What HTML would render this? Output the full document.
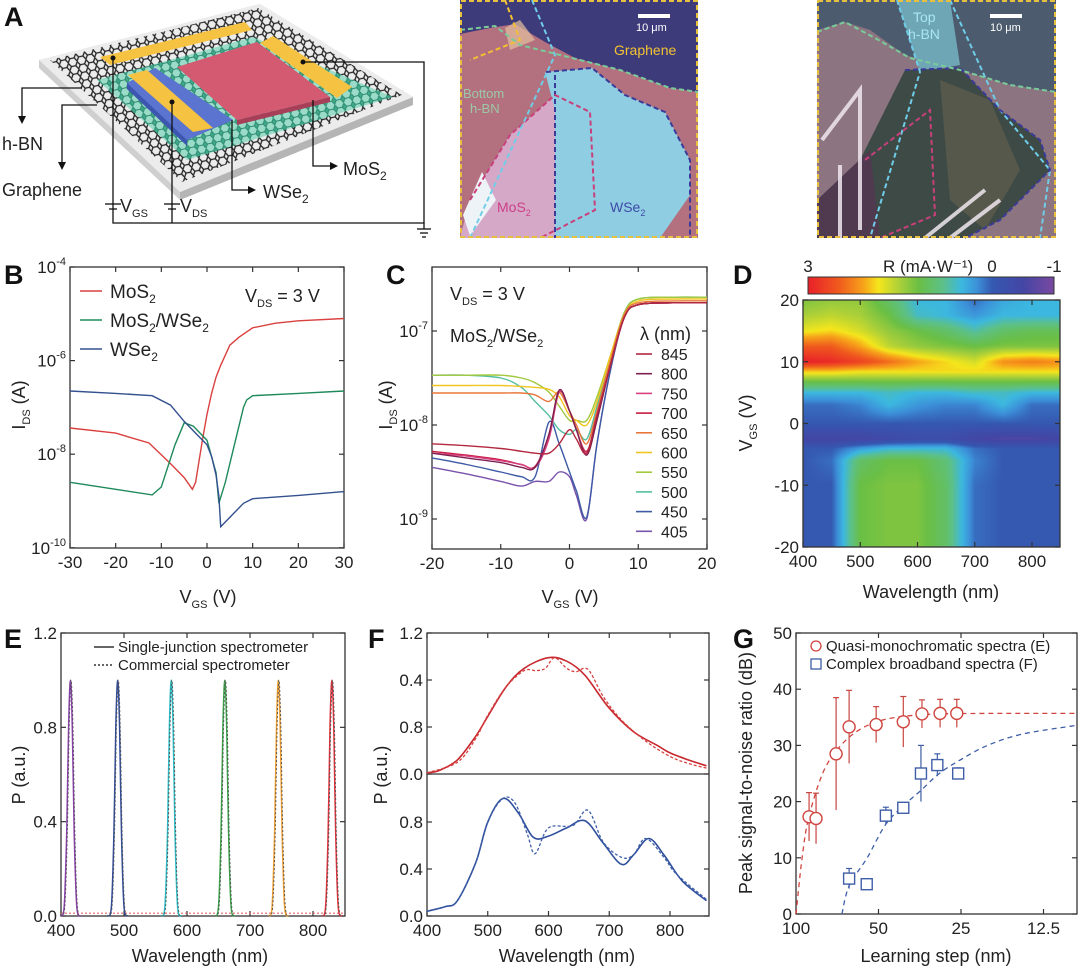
<!DOCTYPE html>
<html><head><meta charset="utf-8">
<style>
html,body{margin:0;padding:0;background:#fff;}
#wrap{position:relative;width:1080px;height:971px;overflow:hidden;font-family:"Liberation Sans",sans-serif;}
svg{position:absolute;left:0;top:0;}
text{font-family:"Liberation Sans",sans-serif;fill:#222;}
.tk{font-size:17px;}
.lb{font-size:18px;}
.pl{font-size:27px;font-weight:bold;fill:#111;}
#heat{position:absolute;left:803px;top:300px;}
</style></head>
<body>
<div id="wrap">
<canvas id="heat" width="257" height="247"></canvas>
<svg id="s" width="1080" height="971">
<defs>
<pattern id="hex" width="9" height="8" patternUnits="userSpaceOnUse" patternTransform="rotate(-12)">
<path d="M2,0 L6.5,0 L9,4 L6.5,8 L2,8 L-0.5,4 Z" fill="none" stroke="#222" stroke-width="1.3"/>
</pattern>
<pattern id="hexg" width="9" height="8" patternUnits="userSpaceOnUse" patternTransform="rotate(-12)">
<rect width="9" height="8" fill="#3fa98a"/>
<path d="M2,0 L6.5,0 L9,4 L6.5,8 L2,8 L-0.5,4 Z" fill="#9adcc8" stroke="#2d8a70" stroke-width="1"/>
</pattern>
</defs>
<!-- Panel letters -->
<text class="pl" x="4" y="26">A</text>
<text class="pl" x="4" y="284">B</text>
<text class="pl" x="386" y="284">C</text>
<text class="pl" x="733" y="284">D</text>
<text class="pl" x="4" y="648">E</text>
<text class="pl" x="368" y="648">F</text>
<text class="pl" x="733" y="648">G</text>

<!-- Panel A schematic -->
<g>
<polygon points="39,60 260,4 413,97 180,192 180,200 39,68" fill="#cfcfcf"/>
<polygon points="180,192 413,97 413,105 180,200" fill="#b5b5b5"/>
<polygon points="39,60 260,4 413,97 180,192" fill="#ececec"/>
<polygon points="50,60 258,8 402,95 182,182" fill="url(#hex)"/>
<polygon points="97,80 253,37 393,97 187,160" fill="url(#hexg)"/>
<polygon points="127,83 155,68 233,120 187,140 187,146 127,89" fill="#3d56b0"/>
<polygon points="127,83 155,68 233,120 187,140" fill="#5a74d0"/>
<polygon points="237,120 330,97 330,102 237,125" fill="#a83f58"/>
<polygon points="177,67 257,42 330,97 237,120" fill="#d45a72"/>
<polygon points="100,57 245,22 252,30 110,65" fill="#f5c242"/>
<polygon points="128,75 147,70 213,128 193,132" fill="#f5c242"/>
<polygon points="260,43 273,36 352,87 337,98" fill="#f5c242"/>
<g fill="none" stroke="#111" stroke-width="1.3">
<polyline points="113,58 113,223 424,223 424,62 303,62"/>
<polyline points="172,102 172,223"/>
<polyline points="82,88 22,88 22,116"/>
<polyline points="97,105 62,105 62,162"/>
<polyline points="232,120 232,190 248,190"/>
<polyline points="313,100 313,166 330,166"/>
<line x1="417" y1="229" x2="431" y2="229"/><line x1="420" y1="233" x2="428" y2="233"/><line x1="422" y1="237" x2="426" y2="237"/>
<line x1="424" y1="223" x2="424" y2="229"/>
<line x1="105" y1="204" x2="121" y2="204"/><line x1="109" y1="209" x2="117" y2="209"/>
<line x1="164" y1="204" x2="180" y2="204"/><line x1="168" y1="209" x2="176" y2="209"/>
</g>
<g fill="#111"><circle cx="113" cy="58" r="2.5"/><circle cx="172" cy="102" r="2.5"/><circle cx="303" cy="62" r="2.5"/>
<polygon points="18,116 26,116 22,124"/><polygon points="58,162 66,162 62,170"/><polygon points="248,186 248,194 256,190"/><polygon points="330,162 330,170 338,166"/></g>
<text class="lb" x="2" y="150">h-BN</text>
<text class="lb" x="2" y="196">Graphene</text>
<text class="lb" x="343" y="175">MoS<tspan font-size="12" dy="5">2</tspan></text>
<text class="lb" x="263" y="198">WSe<tspan font-size="12" dy="5">2</tspan></text>
<text class="lb" x="120" y="212">V<tspan font-size="11" dy="5">GS</tspan></text>
<text class="lb" x="180" y="212">V<tspan font-size="11" dy="5">DS</tspan></text>
</g>

<!-- Micrograph 1 -->
<g>
<rect x="460" y="0" width="238" height="238" fill="#b3717f"/>
<polygon points="460,0 698,0 698,92 670,88 620,70 575,58 545,42 515,24 490,28 460,34" fill="#3e3b7b"/>
<polygon points="505,28 520,20 535,40 510,50" fill="#e6c0a0" opacity="0.7"/>
<polygon points="470,200 510,135 555,95 590,112 595,210 570,238 460,238" fill="#d6a8c8"/>
<polygon points="545,72 592,68 625,95 665,112 690,160 690,195 660,238 555,238 555,110" fill="#8fcde2"/>
<polygon points="463,215 482,172 496,200 470,236" fill="#eef3f8"/>
<g fill="none" stroke-width="2" stroke-dasharray="5,3">
<polyline points="546,72 592,68 625,95 665,112 690,160 690,195 690,238" stroke="#3a3a9a"/>
<polyline points="555,75 555,238" stroke="#3a3a9a"/>
<polyline points="470,200 510,135 555,95 590,112 595,210 560,228 540,238" stroke="#c8407a"/>
<polyline points="505,0 520,40 470,60" stroke="#f2c030"/>
<polyline points="532,0 555,55 470,238" stroke="#70cde8"/>
<polyline points="460,30 495,26 520,45 560,55 620,70 670,88 698,92" stroke="#7acb9a"/>
<rect x="461" y="1" width="236" height="236" stroke="#e8c040"/>
</g>
<line x1="638" y1="16" x2="670" y2="16" stroke="#fff" stroke-width="4"/>
<text x="636" y="31" font-size="11" style="fill:#fff">10 μm</text>
<text x="614" y="55" font-size="14" style="fill:#f3c330">Graphene</text>
<text x="463" y="98" font-size="13" style="fill:#9cc8a8">Bottom</text>
<text x="470" y="113" font-size="13" style="fill:#9cc8a8">h-BN</text>
<text x="497" y="212" font-size="14" style="fill:#cc3f86">MoS<tspan font-size="9" dy="4">2</tspan></text>
<text x="610" y="212" font-size="14" style="fill:#3e4aa8">WSe<tspan font-size="9" dy="4">2</tspan></text>
</g>

<!-- Micrograph 2 -->
<g>
<rect x="817" y="0" width="239" height="238" fill="#8c7480"/>
<polygon points="817,0 1056,0 1056,92 1010,85 960,70 905,55 870,30 845,22 817,30" fill="#4c5b6e"/>
<polygon points="897,0 950,0 960,65 920,72" fill="#6ea6b6"/>
<polygon points="905,70 960,68 1000,110 1040,140 1050,170 1000,220 965,238 880,238 860,160" fill="#3e4a46"/>
<polygon points="940,80 990,100 1020,170 985,230 950,200" fill="#55584a"/>
<polygon points="817,200 870,150 880,238 817,238" fill="#503a50"/>
<g stroke="#f0e8f0" stroke-width="4" fill="none" opacity="0.85">
<polyline points="822,140 860,90 860,230"/><line x1="840" y1="165" x2="840" y2="238"/><line x1="925" y1="238" x2="985" y2="190"/><line x1="950" y1="238" x2="1000" y2="200"/>
</g>
<g fill="none" stroke-width="2" stroke-dasharray="5,3">
<polyline points="897,0 920,72 870,238" stroke="#70cde8"/>
<polyline points="950,0 1000,110 1050,170 1040,238" stroke="#70cde8"/>
<polyline points="905,70 960,68 1000,110 1040,140 1050,170 1000,220 965,238" stroke="#3a3a9a"/>
<polyline points="865,160 930,110 935,215 880,238" stroke="#c8407a"/>
<polyline points="817,32 845,22 875,38 910,58 960,70 1010,85 1056,92" stroke="#7acb9a"/>
<rect x="818" y="1" width="237" height="236" stroke="#e8c040"/>
</g>
<line x1="990" y1="16" x2="1022" y2="16" stroke="#fff" stroke-width="4"/>
<text x="990" y="31" font-size="11" style="fill:#fff">10 μm</text>
<text x="913" y="22" font-size="14" style="fill:#a8e6f4">Top</text>
<text x="908" y="39" font-size="14" style="fill:#a8e6f4">h-BN</text>
</g>

<!-- static labels for B -->
<text class="lb" x="245" y="302" font-size="19">V<tspan font-size="11" dy="5">DS</tspan><tspan dy="-5"> = 3 V</tspan></text>
<text class="lb" transform="translate(25,405) rotate(-90)" text-anchor="middle">I<tspan font-size="11" dy="5">DS</tspan><tspan dy="-5"> (A)</tspan></text>
<text class="lb" x="208" y="603" text-anchor="middle">V<tspan font-size="11" dy="5">GS</tspan><tspan dy="-5"> (V)</tspan></text>
<!-- C -->
<text class="lb" x="450" y="300">V<tspan font-size="11" dy="5">DS</tspan><tspan dy="-5"> = 3 V</tspan></text>
<text class="lb" x="450" y="342">MoS<tspan font-size="11" dy="5">2</tspan><tspan dy="-5">/WSe</tspan><tspan font-size="11" dy="5">2</tspan></text>
<text class="lb" x="640" y="340" font-size="16">λ (nm)</text>
<text class="lb" transform="translate(392,405) rotate(-90)" text-anchor="middle">I<tspan font-size="11" dy="5">DS</tspan><tspan dy="-5"> (A)</tspan></text>
<text class="lb" x="570" y="603" text-anchor="middle">V<tspan font-size="11" dy="5">GS</tspan><tspan dy="-5"> (V)</tspan></text>
<!-- D -->
<text class="tk" x="808" y="272" text-anchor="middle" font-size="16">3</text>
<text class="tk" x="883" y="272" font-size="15">R (mA·W⁻¹)</text>
<text class="tk" x="992" y="272" text-anchor="middle" font-size="16">0</text>
<text class="tk" x="1054" y="272" text-anchor="middle" font-size="16">-1</text>
<text class="lb" transform="translate(752,423) rotate(-90)" text-anchor="middle">V<tspan font-size="11" dy="5">GS</tspan><tspan dy="-5"> (V)</tspan></text>
<text class="lb" x="931" y="598" text-anchor="middle">Wavelength (nm)</text>
<!-- E -->
<text class="lb" transform="translate(25,775) rotate(-90)" text-anchor="middle">P (a.u.)</text>
<text class="lb" x="200" y="962" text-anchor="middle">Wavelength (nm)</text>
<line x1="94" y1="647" x2="114" y2="647" stroke="#333" stroke-width="1.5"/>
<text x="118" y="652" font-size="15">Single-junction spectrometer</text>
<line x1="94" y1="665" x2="114" y2="665" stroke="#333" stroke-width="1.5" stroke-dasharray="2,2"/>
<text x="118" y="670" font-size="15">Commercial spectrometer</text>
<!-- F -->
<text class="lb" transform="translate(387,775) rotate(-90)" text-anchor="middle">P (a.u.)</text>
<text class="lb" x="567" y="962" text-anchor="middle">Wavelength (nm)</text>
<!-- G -->
<text class="lb" transform="translate(752,773) rotate(-90)" text-anchor="middle">Peak signal-to-noise ratio (dB)</text>
<text class="lb" x="936" y="962" text-anchor="middle">Learning step (nm)</text>
<circle cx="816" cy="646" r="5" fill="none" stroke="#d0453f" stroke-width="1.3"/>
<text x="826" y="651" font-size="15">Quasi-monochromatic spectra (E)</text>
<rect x="811" y="659" width="10" height="10" fill="none" stroke="#3f5ea8" stroke-width="1.3"/>
<text x="826" y="669" font-size="15">Complex broadband spectra (F)</text>
</svg>
</div>
<script>
// ---------------- DATA ----------------
// Panel B (log10 IDS)
const bMosX = [-30,-20,-12.7,-8,-5,-3.2,-2.5,-1,0,1,2,3,5,7,10,15,20,30];
const bMosY = [-7.44,-7.55,-7.76,-8.2,-8.5,-8.75,-8.6,-7.7,-7.15,-6.7,-6.35,-6.1,-5.67,-5.5,-5.3,-5.2,-5.15,-5.1];
const bHetX = [-30,-20,-12,-10,-7,-5,-3,0,2,2.6,4,6,8,8.7,10,20,30];
const bHetY = [-8.6,-8.75,-8.87,-8.7,-7.8,-7.33,-7.4,-7.7,-8.4,-9.05,-8.6,-7.8,-7.0,-6.84,-6.75,-6.7,-6.65];
const bWseX = [-30,-20,-12,-8,-5,-2,0,1,2,2.6,3,5,8,10,20,30];
const bWseY = [-6.65,-6.7,-6.75,-6.95,-7.3,-7.6,-7.8,-8.05,-8.45,-8.9,-9.55,-9.35,-9.05,-8.95,-8.88,-8.8];
const bXTicks = [-30,-20,-10,0,10,20,30];
const bYTicks = [-4,-6,-8,-10];
// Panel C
const cVgs = [-20,-15,-10,-7,-5,-3,-1.5,0,1,2.5,4,6,8,10,15,20];
const cWavelengths = [845,800,750,700,650,600,550,500,450,405];
const c845 = [-8.2,-8.22,-8.25,-8.28,-8.3,-8.3,-8.2,-8.05,-8.15,-8.3,-7.9,-7.35,-6.85,-6.72,-6.7,-6.7];
const c800 = [-8.3,-8.35,-8.4,-8.45,-8.45,-8.1,-7.63,-7.85,-8.05,-8.32,-7.95,-7.35,-6.85,-6.72,-6.7,-6.7];
const c750 = [-8.3,-8.33,-8.38,-8.42,-8.45,-8.15,-7.65,-7.85,-8.05,-8.3,-7.9,-7.35,-6.85,-6.72,-6.7,-6.7];
const c700 = [-8.28,-8.32,-8.37,-8.42,-8.44,-8.1,-7.63,-7.85,-8.05,-8.28,-7.9,-7.35,-6.85,-6.72,-6.7,-6.7];
const c650 = [-7.66,-7.66,-7.66,-7.66,-7.68,-7.75,-7.65,-7.85,-8.0,-8.2,-7.85,-7.3,-6.82,-6.7,-6.68,-6.68];
const c600 = [-7.58,-7.58,-7.58,-7.59,-7.6,-7.62,-7.7,-7.9,-7.95,-8.0,-7.75,-7.25,-6.82,-6.68,-6.66,-6.66];
const c550 = [-7.47,-7.47,-7.47,-7.5,-7.55,-7.65,-7.8,-7.95,-7.95,-7.95,-7.7,-7.25,-6.8,-6.66,-6.64,-6.64];
const c500 = [-7.47,-7.47,-7.5,-7.6,-7.75,-7.9,-8.05,-8.1,-8.05,-8.15,-7.8,-7.3,-6.8,-6.66,-6.64,-6.64];
const c450 = [-8.35,-8.42,-8.5,-8.55,-8.55,-7.97,-8.2,-8.5,-8.7,-8.98,-8.2,-7.4,-6.85,-6.72,-6.7,-6.7];
const c405 = [-8.45,-8.52,-8.6,-8.65,-8.6,-8.6,-8.5,-8.55,-8.75,-9.0,-8.2,-7.4,-6.85,-6.72,-6.7,-6.7];
const cXTicks = [-20,-10,0,10,20];
const cYTicks = [-7,-8,-9];
// Panel D heatmap
const dWl = [400,450,500,550,600,650,700,750,800,850];
const dVgs = [20,17.5,15,12.5,10,8.5,7,5,3,0,-2.5,-4,-6,-10,-20];
const dR20 = [1.3,1.4,1.4,1.0,0.5,0.5,0.1,0.4,0.5,0.5];
const dR17 = [1.5,1.6,1.5,1.2,0.6,0.5,0.3,0.5,0.5,0.5];
const dR15 = [1.8,1.9,1.7,1.4,1.2,1.0,0.7,1.0,1.1,1.1];
const dR12 = [2.5,2.5,2.1,1.6,1.4,1.3,1.2,1.3,1.3,1.3];
const dR10 = [3.0,2.9,2.7,2.4,2.1,1.9,1.7,2.2,2.3,2.2];
const dR8 = [2.0,2.0,1.9,1.9,1.9,1.9,1.9,1.9,1.9,1.9];
const dR7 = [1.3,1.3,1.3,1.3,1.3,1.3,1.3,1.3,1.3,1.3];
const dR5 = [0.5,0.5,0.5,0.6,0.5,0.5,0.6,0.6,0.5,0.5];
const dR3 = [0.1,0.1,0.2,0.5,0.3,0.2,0.2,0.5,0.1,0.1];
const dR0 = [0,0,0,0,0,0,0,0,0,0];
const dRm2 = [-0.5,-0.5,-0.5,-0.4,-0.3,-0.3,-0.5,-0.6,-0.6,-0.5];
const dRm4 = [0,0,0.3,0.5,0.5,0.5,0.1,0,0,0];
const dRm6 = [0,0.1,1.0,1.2,1.2,0.9,0.2,0,0,0];
const dRm10 = [0,0,1.2,1.3,1.3,1.0,0.1,0,0,0];
const dRm20 = [0,0,1.2,1.3,1.3,1.0,0.1,0,0,0];
const dXTicks = [400,500,600,700,800];
const dYTicks = [20,10,0,-10,-20];
// Panel E
const eCenters = [415,490,575,660,745,830];
const eHeights = [1.0,1.0,1.0,1.0,1.0,1.0];
const eShapeOff = [-16,-10,-6,-3,0,3,6,10,16];
const eShapeVal = [0,0.04,0.35,0.8,1,0.8,0.35,0.04,0];
const eXTicks = [400,500,600,700,800];
const eYTicks = [0,0.4,0.8,1.2];
// Panel F
const fTopWl = [400,420,450,480,500,530,560,600,630,660,700,740,780,800,830,860];
const fTopSolid = [0.01,0.03,0.12,0.32,0.49,0.74,0.9,0.99,0.96,0.84,0.56,0.36,0.24,0.18,0.12,0.07];
const fTopDashWl = [400,450,480,500,530,560,580,595,610,630,645,665,690,720,760,800,830,860];
const fTopDash = [0.01,0.1,0.3,0.5,0.74,0.88,0.88,0.9,0.99,0.9,0.87,0.89,0.66,0.46,0.28,0.15,0.09,0.05];
const fBotWl = [400,430,450,480,500,525,550,575,600,630,660,690,720,740,765,790,820,860];
const fBotSolid = [0.04,0.08,0.13,0.45,0.8,1.0,0.88,0.67,0.68,0.75,0.81,0.62,0.44,0.52,0.66,0.52,0.3,0.13];
const fBotDashWl = [400,430,450,480,500,525,545,565,578,600,640,665,690,720,740,760,790,810,860];
const fBotDash = [0.04,0.08,0.13,0.45,0.8,1.0,0.96,0.7,0.53,0.75,0.77,0.9,0.63,0.5,0.52,0.66,0.5,0.36,0.14];
const fXTicks = [400,500,600,700,800];
const fYTickVals = [0,0.4,0.8,1.2];
const fTopYLabels = ["0.0","0.8","0.4","1.2"];
const fBotYLabels = ["0.0","0.4","0.8","1.2"];
// Panel G
const gQuasiStep = [89.6,84.5,71.4,64,51,40.6,34.7,29.8,25.9];
const gQuasiVal = [17.3,17,28.5,33.3,33.7,34.2,35.6,35.7,35.7];
const gQuasiErr = [4.3,4.5,10,6.5,3.2,4.5,2.5,2.5,2.5];
const gBroadStep = [64,55.2,47,40.6,35,30.5,25.6];
const gBroadVal = [6.3,5.3,17.5,18.9,25,26.5,25];
const gBroadErr = [1.8,1,1.5,0.5,5,2,1];
const gQuasiFitStep = [100,95,90,80,70,60,50,40,30,20,15,10,9.4];
const gQuasiFitVal = [0,10,17,25,29.5,32.5,34.3,35.2,35.6,35.7,35.7,35.7,35.7];
const gBroadFitStep = [68,64,55,47,40,35,30,25,20,15,10,9.4];
const gBroadFitVal = [0,5,10,16,19.5,22,25,27.5,30,32,33.4,33.6];
const gXTicks = [100,50,25,12.5];
const gYTicks = [0,10,20,30,40,50];

// ---------------- HELPERS ----------------
const NS = "http://www.w3.org/2000/svg";
const S = document.getElementById('s');
function el(tag, attrs, parent){ const e=document.createElementNS(NS,tag); for(const k in attrs) e.setAttribute(k,attrs[k]); (parent||S).appendChild(e); return e; }
function linePath(xs, ys, fx, fy){ return xs.map((x,i)=>(i?'L':'M')+fx(x).toFixed(1)+','+fy(ys[i]).toFixed(1)).join(''); }
function smoothPath(xs, ys, fx, fy){
  const P = xs.map((x,i)=>[fx(x),fy(ys[i])]);
  let d='M'+P[0][0].toFixed(1)+','+P[0][1].toFixed(1);
  for(let i=0;i<P.length-1;i++){
    const p0=P[Math.max(0,i-1)],p1=P[i],p2=P[i+1],p3=P[Math.min(P.length-1,i+2)];
    const c1=[p1[0]+(p2[0]-p0[0])/6,p1[1]+(p2[1]-p0[1])/6];
    const c2=[p2[0]-(p3[0]-p1[0])/6,p2[1]-(p3[1]-p1[1])/6];
    d+='C'+c1[0].toFixed(1)+','+c1[1].toFixed(1)+' '+c2[0].toFixed(1)+','+c2[1].toFixed(1)+' '+p2[0].toFixed(1)+','+p2[1].toFixed(1);
  }
  return d;
}
function frame(x0,y0,x1,y1,name){
  const r = el('rect',{x:x0,y:y0,width:x1-x0,height:y1-y0,fill:'none',stroke:'#333','stroke-width':1.3});
  
  
}
function xTicks(vals, fx, y0, y1, labels, name){
  vals.forEach((v,i)=>{
    const x=fx(v);
    el('line',{x1:x,y1:y1,x2:x,y2:y1-5,stroke:'#333','stroke-width':1.2});
    el('line',{x1:x,y1:y0,x2:x,y2:y0+5,stroke:'#333','stroke-width':1.2});
    const t=el('text',{x:x,y:y1+20,'text-anchor':'middle','class':'tk'}); t.textContent=labels[i];
    
    
  });
}
function yTicks(vals, fy, x0, x1, labels, name, sup){
  vals.forEach((v,i)=>{
    const y=fy(v);
    el('line',{x1:x0,y1:y,x2:x0+5,y2:y,stroke:'#333','stroke-width':1.2});
    el('line',{x1:x1,y1:y,x2:x1-5,y2:y,stroke:'#333','stroke-width':1.2});
    const t=el('text',{x:x0-4,y:y+6,'text-anchor':'end','class':'tk'});
    if(sup){ t.innerHTML='10<tspan font-size="11" dy="-8">'+labels[i]+'</tspan>'; }
    else t.textContent=labels[i];
    
    
  });
}
function curve(d, color, name, dash, w){
  const p=el('path',{d:d,fill:'none',stroke:color,'stroke-width':w||1.4,'stroke-dasharray':dash||'none'});
  
  
  return p;
}

// ---------------- PANEL B ----------------
const xB = v => 70 + (v+30)/60*274;
const yB = l => 267 + (-4-l)*46.8;
frame(70,267,344,548,'b-plot-frame');
xTicks(bXTicks, xB, 267, 548, bXTicks.map(String), 'b-x');
yTicks(bYTicks, yB, 70, 344, bYTicks.map(String), 'b-y', true);
curve(linePath(bMosX,bMosY,xB,yB),'#d9413f','b-mos2-curve');
curve(linePath(bHetX,bHetY,xB,yB),'#1f8a5a','b-heterojunction-curve');
curve(linePath(bWseX,bWseY,xB,yB),'#33508f','b-wse2-curve');
const bLegNames = ['MoS<tspan font-size="12" dy="5">2</tspan>','MoS<tspan font-size="12" dy="5">2</tspan><tspan dy="-5">/WSe</tspan><tspan font-size="12" dy="5">2</tspan>','WSe<tspan font-size="12" dy="5">2</tspan>'];
const bLegColors = ['#d9413f','#1f8a5a','#33508f'];
bLegNames.forEach((n,i)=>{
  const y=291+i*29;
  const l=el('line',{x1:80,y1:y,x2:102,y2:y,stroke:bLegColors[i],'stroke-width':1.5});
  
  
  const t=el('text',{x:110,y:y+7,'font-size':19}); t.innerHTML=n;
  
  
});

// ---------------- PANEL C ----------------
const xC = v => 432 + (v+20)/40*275;
const yC = l => 331 + (-7-l)*94;
frame(432,267,707,549,'c-plot-frame');
xTicks(cXTicks, xC, 267, 549, cXTicks.map(String), 'c-x');
yTicks(cYTicks, yC, 432, 707, cYTicks.map(String), 'c-y', true);
const cSeries = [c845,c800,c750,c700,c650,c600,c550,c500,c450,c405];
const cColors = ['#b3283e','#7e2050','#d8407e','#c81a40','#e8763a','#f2c520','#a2c83c','#55c0a0','#3d5aa6','#7a52aa'];
for(let i=cSeries.length-1;i>=0;i--){
  curve(smoothPath(cVgs,cSeries[i],xC,yC),cColors[i],'c-curve-'+cWavelengths[i]);
}
cWavelengths.forEach((w,i)=>{
  const y=354+i*19.7;
  const l=el('line',{x1:636,y1:y,x2:652,y2:y,stroke:cColors[i],'stroke-width':1.6});
  
  
  const t=el('text',{x:661,y:y+6,'font-size':16}); t.textContent=w;
  
  
});

// ---------------- PANEL D ----------------
const dRows = [dR20,dR17,dR15,dR12,dR10,dR8,dR7,dR5,dR3,dR0,dRm2,dRm4,dRm6,dRm10,dRm20];
const cmapV = [3,2.5,2.1,1.85,1.5,1.2,0.8,0.5,0.25,0,-0.5,-1];
const cmapC = [[232,32,42],[240,90,30],[247,162,26],[245,230,28],[168,207,58],[106,191,69],[92,192,138],[60,184,224],[60,143,216],[53,88,176],[68,70,165],[122,72,160]];
function cmap(r){
  if(r>=cmapV[0]) return cmapC[0];
  for(let i=0;i<cmapV.length-1;i++){
    if(r<=cmapV[i]&&r>=cmapV[i+1]){const t=(cmapV[i]-r)/(cmapV[i]-cmapV[i+1]);return cmapC[i].map((c,k)=>c+(cmapC[i+1][k]-c)*t);}
  }
  return cmapC[cmapC.length-1];
}
const xD = w => 803 + (w-400)/400*229;
const yD = v => 300 + (20-v)/40*247;
(function(){
  const cv=document.getElementById('heat'), ctx=cv.getContext('2d');
  const W=cv.width,H=cv.height, img=ctx.createImageData(W,H);
  for(let py=0;py<H;py++){
    const v = 20 - (py+0.5)/247*40;
    let j=0; while(j<dVgs.length-2 && v<dVgs[j+1]) j++;
    const tv=Math.min(1,Math.max(0,(dVgs[j]-v)/(dVgs[j]-dVgs[j+1])));
    for(let px=0;px<W;px++){
      const w = 400 + (px+0.5)/229*400;
      let i=0; while(i<dWl.length-2 && w>dWl[i+1]) i++;
      const tw=Math.min(1,Math.max(0,(w-dWl[i])/(dWl[i+1]-dWl[i])));
      const a=dRows[j][i]*(1-tw)+dRows[j][i+1]*tw, b=dRows[j+1][i]*(1-tw)+dRows[j+1][i+1]*tw;
      const c=cmap(a*(1-tv)+b*tv), k=(py*W+px)*4;
      img.data[k]=c[0];img.data[k+1]=c[1];img.data[k+2]=c[2];img.data[k+3]=255;
    }
  }
  ctx.putImageData(img,0,0);
})();
frame(803,300,1060,547,'d-plot-frame');
xTicks(dXTicks, xD, 300, 547, dXTicks.map(String), 'd-x');
yTicks(dYTicks, yD, 803, 1060, dYTicks.map(String), 'd-y', false);
(function(){
  const g=el('linearGradient',{id:'cbar',x1:0,x2:1,y1:0,y2:0},S.querySelector('defs'));
  cmapV.forEach((v,i)=>{ el('stop',{offset:((3-v)/4).toFixed(3),'stop-color':'rgb('+cmapC[i].map(Math.round).join(',')+')'},g); });
  const r=el('rect',{x:808,y:277,width:246,height:17,fill:'url(#cbar)',stroke:'#333','stroke-width':1});
  
  
})();

// ---------------- PANEL E ----------------
const xE = w => 61 + (w-400)*0.63;
const yE = p => 916 - p*(283/1.2);
frame(61,633,345,916,'e-plot-frame');
xTicks(eXTicks, xE, 633, 916, eXTicks.map(String), 'e-x');
yTicks(eYTicks, yE, 61, 345, eYTicks.map(v=>v.toFixed(1)), 'e-y', false);
const eColors = ['#8a3fae','#2f4a9a','#2bbfc8','#3aa54a','#f0a030','#e0303a'];
const eBaseX = [400,850];
const eBaseY = [0.012,0.012];
curve(linePath(eBaseX,eBaseY,xE,yE),'#e06a6a','e-baseline-dotted','2,2',1.2);
eCenters.forEach((c,i)=>{
  const xs=eShapeOff.map(o=>c+o), ys=eShapeVal.map(v=>v*eHeights[i]);
  curve(smoothPath(xs,ys,xE,yE),eColors[i],'e-peak-'+c,'none',1.5);
  curve(smoothPath(xs.map(x=>x+1),ys,xE,yE),'#555','e-peak-commercial-'+c,'2,2',1);
});

// ---------------- PANEL F ----------------
const xF = w => 427 + (w-400)*0.6075;
const yFt = p => 774 - p*117.5;
const yFb = p => 916 - p*117.5;
frame(427,633,709,916,'f-plot-frame');
el('line',{x1:427,y1:774,x2:709,y2:774,stroke:'#333','stroke-width':1.3});
xTicks(fXTicks, xF, 633, 916, fXTicks.map(String), 'f-x');
yTicks(fYTickVals.slice(0,3), yFb, 427, 709, fBotYLabels, 'f-bottom-y', false);
yTicks(fYTickVals, yFt, 427, 709, fTopYLabels, 'f-top-y', false);
curve(smoothPath(fTopWl,fTopSolid,xF,yFt),'#c8282e','f-top-solid','none',1.6);
curve(smoothPath(fTopDashWl,fTopDash,xF,yFt),'#d84040','f-top-dashed','3,2',1.3);
curve(smoothPath(fBotWl,fBotSolid,xF,yFb),'#2f4f9c','f-bottom-solid','none',1.6);
curve(smoothPath(fBotDashWl,fBotDash,xF,yFb),'#4060a8','f-bottom-dashed','3,2',1.3);

// ---------------- PANEL G ----------------
const xG = s => 796 + Math.log2(100/s)*82.5;
const yG = v => 914 - v*5.62;
frame(796,633,1077,914,'g-plot-frame');
xTicks(gXTicks, xG, 633, 914, gXTicks.map(String), 'g-x');
yTicks(gYTicks, yG, 796, 1077, gYTicks.map(String), 'g-y', false);
curve(smoothPath(gQuasiFitStep,gQuasiFitVal,xG,yG),'#d0453f','g-quasi-fit','5,4',1.3);
curve(smoothPath(gBroadFitStep,gBroadFitVal,xG,yG),'#3f5ea8','g-broadband-fit','5,4',1.3);
gQuasiStep.forEach((s,i)=>{
  const x=xG(s), y=yG(gQuasiVal[i]);
  el('line',{x1:x,y1:yG(gQuasiVal[i]-gQuasiErr[i]),x2:x,y2:yG(gQuasiVal[i]+gQuasiErr[i]),stroke:'#c8453f','stroke-width':1.2});
  el('line',{x1:x-3,y1:yG(gQuasiVal[i]+gQuasiErr[i]),x2:x+3,y2:yG(gQuasiVal[i]+gQuasiErr[i]),stroke:'#c8453f','stroke-width':1.2});
  const c=el('circle',{cx:x,cy:y,r:6,fill:'#fff',stroke:'#d0453f','stroke-width':1.4});
  
  
});
gBroadStep.forEach((s,i)=>{
  const x=xG(s), y=yG(gBroadVal[i]);
  el('line',{x1:x,y1:yG(gBroadVal[i]-gBroadErr[i]),x2:x,y2:yG(gBroadVal[i]+gBroadErr[i]),stroke:'#3f5ea8','stroke-width':1.2});
  el('line',{x1:x-3,y1:yG(gBroadVal[i]+gBroadErr[i]),x2:x+3,y2:yG(gBroadVal[i]+gBroadErr[i]),stroke:'#3f5ea8','stroke-width':1.2});
  const r=el('rect',{x:x-5.5,y:y-5.5,width:11,height:11,fill:'#fff',stroke:'#3f5ea8','stroke-width':1.4});
  
  
});
</script>
</body></html>
